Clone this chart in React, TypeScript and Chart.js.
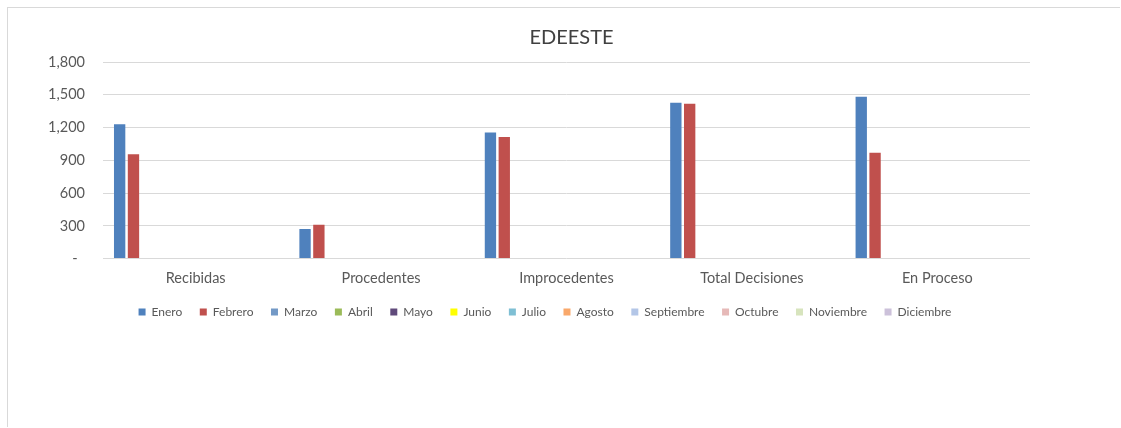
import React, { useEffect, useRef } from "react";
import { Chart, registerables } from "chart.js";

Chart.register(...registerables);

const categories = ["Recibidas", "Procedentes", "Improcedentes", "Total Decisiones", "En Proceso"];
const months = ["Enero", "Febrero", "Marzo", "Abril", "Mayo", "Junio", "Julio", "Agosto", "Septiembre", "Octubre", "Noviembre", "Diciembre"];
const monthColors = ["#4F81BD", "#C0504D", "#7399C6", "#9BBB59", "#604A7B", "#FFFF00", "#7FBFD4", "#F9A86B", "#B3C6E7", "#E6B9B8", "#D7E4BD", "#CCC1DA"];
const eneroValues = [1230, 270, 1154, 1426, 1481];
const febreroValues = [955, 310, 1113, 1417, 970];
const yTicks = [0, 300, 600, 900, 1200, 1500, 1800];

const seriesValues: (number[] | null)[] = [eneroValues, febreroValues, null, null, null, null, null, null, null, null, null, null];

const FONT = "Lato, 'Open Sans', sans-serif";

const blockShift = {
  id: "blockShift",
  afterLayout(chart: any) {
    const lg = chart.legend;
    if (lg) {
      lg.left += 52;
      lg.top -= 9.5;
      lg.bottom -= 9.5;
    }
    const tb = chart.titleBlock;
    if (tb) {
      tb.left += 5;
      tb.right += 5;
    }
  },
};

export default function App() {
  const ref = useRef<HTMLCanvasElement | null>(null);
  useEffect(() => {
    if (!ref.current) return;
    const datasets = months.map((m, i) => ({
      label: m,
      data: seriesValues[i] ? (seriesValues[i] as number[]) : categories.map(() => null),
      backgroundColor: monthColors[i],
      borderWidth: 0,
      barPercentage: 0.82,
      categoryPercentage: 0.895,
    }));
    const chart = new Chart(ref.current, {
      type: "bar",
      data: { labels: categories, datasets },
      plugins: [blockShift],
      options: {
        animation: false,
        responsive: false,
        maintainAspectRatio: false,
        layout: { padding: { left: 0, right: 91, top: 0, bottom: 90.5 } },
        plugins: {
          tooltip: { enabled: false },
          title: {
            display: true,
            text: "EDEESTE",
            fullSize: false,
            color: "#404040",
            font: { family: FONT, size: 20, weight: "normal" },
            padding: { top: 17.5, bottom: 12.5 },
          },
          legend: {
            position: "bottom",
            labels: {
              color: "#595959",
              font: { family: FONT, size: 12 },
              boxWidth: 7,
              boxHeight: 7,
              padding: 17.5,
            },
          },
        },
        scales: {
          x: {
            grid: { display: false, drawTicks: false },
            border: { display: false },
            ticks: { color: "#595959", font: { family: FONT, size: 14.5 }, padding: 11, maxRotation: 0 },
          },
          y: {
            min: 0,
            max: 1800,
            afterFit: (s: any) => { s.width = 95; },
            afterBuildTicks: (s: any) => { s.ticks = yTicks.map((v) => ({ value: v })); },
            grid: { color: "#D9D9D9", lineWidth: 1, drawTicks: false },
            border: { display: false },
            ticks: {
              color: "#595959",
              font: { family: FONT, size: 14.5 },
              padding: 18,
              callback: (v: any) => (Number(v) === 0 ? "-  " : Number(v).toLocaleString("en-US")),
            },
          },
        },
      },
    });
    return () => chart.destroy();
  }, []);
  return (
    <div
      style={{
        position: "absolute",
        left: 7,
        top: 7,
        width: 1112,
        height: 419,
        overflow: "hidden",
        borderTop: "1px solid #D9D9D9",
        borderLeft: "1px solid #D9D9D9",
        background: "#fff",
      }}
    >
      <canvas ref={ref} width={1113} height={420} style={{ display: "block", width: 1113, height: 420 }} />
    </div>
  );
}
